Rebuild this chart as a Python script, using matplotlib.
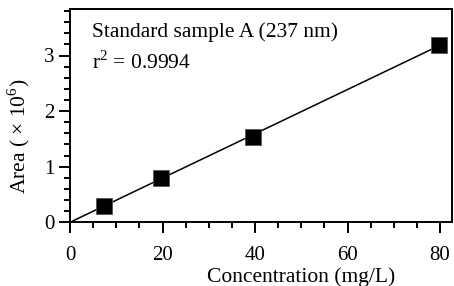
import matplotlib
matplotlib.use("Agg")
import matplotlib.pyplot as plt
from matplotlib.ticker import MultipleLocator
import numpy as np

# Data
conc = [7.4, 19.6, 39.6, 79.8]
area = [0.29, 0.79, 1.53, 3.18]
fit_x = [0, 80]
fit_slope = 0.0398
fit_intercept = 0.0
title_text = "Standard sample A (237 nm)"
r2_text = "r$^2$ = 0.9994"
xticks = [0, 20, 40, 60, 80]
yticks = [0, 1, 2, 3]

plt.rcParams['font.family'] = ['Liberation Serif', 'DejaVu Serif']
plt.rcParams['mathtext.fontset'] = 'custom'
plt.rcParams['mathtext.rm'] = 'Liberation Serif'

W, H = 454, 286
fig = plt.figure(figsize=(W / 100, H / 100), dpi=100)
left, right, top, bottom = 70, 452, 9.3, 222.3
ax = fig.add_axes([left / W, 1 - bottom / H, (right - left) / W, (bottom - top) / H])

fx = np.array(fit_x, dtype=float)
ax.plot(fx, fit_slope * fx + fit_intercept, color='black', lw=1.1, zorder=2)
ax.plot(conc, area, linestyle='none', marker='s', markersize=11,
        markerfacecolor='black', markeredgecolor='#555555', markeredgewidth=0.6, zorder=3)

ax.set_xlim(0, (right - left) / 4.625)
ax.set_ylim(0, (bottom - top) / 55.6)
ax.set_xticks(xticks)
ax.set_yticks(yticks)
ax.xaxis.set_minor_locator(MultipleLocator(5))
ax.yaxis.set_minor_locator(MultipleLocator(0.2))

for s in ax.spines.values():
    s.set_linewidth(1.4)

ax.tick_params(which='major', direction='out', length=8.2, width=1.4, labelsize=15)
ax.tick_params(which='minor', direction='out', length=4.5, width=1.4)
ax.tick_params(axis='x', which='major', pad=9)
ax.tick_params(axis='y', which='major', pad=3)

ax.text((92 - left) / (right - left), 1 - (36.5 - top) / (bottom - top), title_text,
        transform=ax.transAxes, fontsize=15.5, ha='left', va='baseline')
ax.text((92 - left) / (right - left), 1 - (68.5 - top) / (bottom - top), r2_text,
        transform=ax.transAxes, fontsize=15.5, ha='left', va='baseline')

fig.text(301.5 / W, 1 - 282 / H, "Concentration (mg/L)", fontsize=15.5,
         ha='center', va='baseline')
fig.text(19 / W, 1 - 136 / H, "Area ( × 10$^6$)", fontsize=15.5,
         ha='center', va='center', rotation=90)

fig.savefig("out.png", dpi=100)
